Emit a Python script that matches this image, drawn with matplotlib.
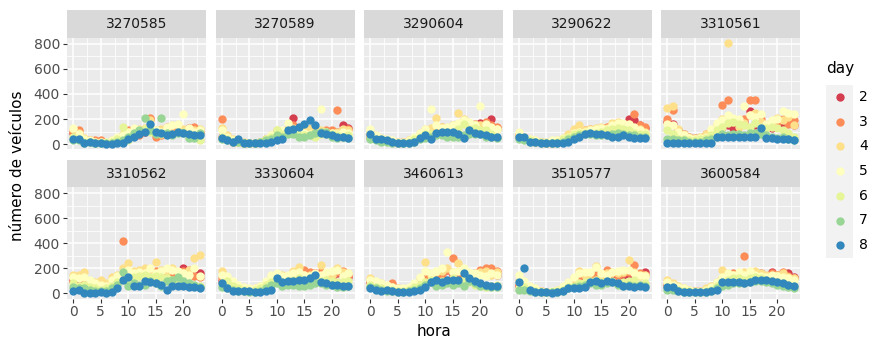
import matplotlib
matplotlib.use("Agg")
import matplotlib.pyplot as plt
import numpy as np

# sensors (facets) and the day legend
sensors = ["3270585", "3270589", "3290604", "3290622", "3310561",
           "3310562", "3330604", "3460613", "3510577", "3600584"]
days = [2, 3, 4, 5, 6, 7, 8]
hours = list(range(24))
day_colors = ["#D53E4F", "#FC8D59", "#FEE08B", "#FFFFBF", "#E6F598", "#99D594", "#3288BD"]

# vehicles per hour, one row per day (2..8)
s3270585 = [
    [90, 80, 40, 30, 20, 20, 10, 20, 40, 60, 90, 100, 80, 100, 200, 80, 90, 110, 130, 120, 100, 130, 120, 100],
    [100, 110, 40, 30, 30, 30, 10, 20, 40, 60, 110, 110, 70, 110, 210, 60, 70, 140, 130, 120, 110, 130, 140, 110],
    [120, 90, 50, 30, 20, 20, 20, 30, 50, 80, 100, 110, 120, 130, 190, 110, 120, 130, 150, 150, 120, 120, 110, 120],
    [130, 80, 40, 30, 20, 20, 20, 30, 60, 70, 100, 130, 110, 120, 130, 110, 100, 140, 150, 160, 240, 130, 100, 110],
    [60, 40, 20, 20, 10, 10, 10, 20, 40, 140, 30, 70, 90, 120, 100, 90, 80, 90, 80, 100, 100, 80, 70, 30],
    [30, 30, 10, 15, 10, 10, 5, 10, 20, 30, 60, 90, 110, 210, 110, 80, 210, 90, 70, 90, 90, 50, 50, 90],
    [40, 40, 5, 20, 5, 5, 0, 0, 10, 10, 40, 60, 80, 100, 160, 100, 90, 70, 80, 100, 90, 80, 70, 75],
]
s3270589 = [
    [60, 40, 20, 20, 10, 10, 10, 20, 40, 60, 90, 100, 110, 210, 120, 110, 100, 110, 100, 90, 90, 100, 150, 130],
    [200, 60, 30, 20, 10, 10, 10, 20, 40, 60, 100, 100, 120, 150, 120, 110, 120, 100, 100, 110, 110, 270, 110, 120],
    [130, 70, 40, 20, 15, 10, 10, 20, 40, 70, 110, 100, 110, 130, 120, 110, 120, 100, 110, 100, 90, 100, 120, 110],
    [110, 60, 30, 20, 10, 10, 10, 20, 40, 70, 90, 110, 170, 110, 90, 90, 80, 80, 280, 100, 90, 80, 100, 90],
    [60, 40, 20, 20, 10, 10, 10, 20, 40, 60, 110, 80, 90, 90, 70, 70, 70, 60, 80, 80, 80, 70, 60, 70],
    [40, 30, 15, 15, 10, 5, 5, 15, 30, 40, 70, 60, 80, 80, 60, 60, 70, 90, 100, 100, 60, 50, 60, 50],
    [50, 30, 20, 40, 10, 5, 5, 10, 10, 20, 30, 40, 110, 120, 140, 160, 190, 150, 90, 80, 70, 60, 60, 50],
]
s3290604 = [
    [60, 50, 30, 30, 20, 10, 20, 20, 40, 70, 100, 100, 110, 130, 120, 140, 150, 170, 170, 160, 170, 170, 200, 130],
    [70, 50, 40, 30, 20, 20, 20, 30, 50, 70, 100, 110, 130, 140, 130, 150, 160, 170, 160, 150, 150, 180, 150, 140],
    [100, 60, 50, 30, 20, 20, 20, 30, 50, 90, 120, 130, 210, 140, 130, 150, 250, 200, 170, 160, 150, 140, 130, 120],
    [120, 70, 50, 40, 30, 20, 20, 30, 60, 90, 120, 280, 150, 130, 140, 150, 170, 190, 180, 150, 300, 160, 140, 120],
    [60, 40, 30, 20, 20, 10, 10, 20, 40, 60, 80, 80, 90, 90, 100, 90, 120, 160, 120, 130, 110, 110, 80, 60],
    [40, 30, 20, 20, 10, 10, 5, 10, 20, 40, 50, 60, 70, 70, 60, 60, 60, 70, 80, 80, 80, 60, 60, 50],
    [80, 40, 40, 30, 20, 10, 10, 10, 20, 50, 70, 40, 90, 100, 100, 100, 80, 50, 110, 90, 80, 70, 60, 60],
]
s3290622 = [
    [60, 40, 30, 20, 20, 10, 10, 20, 40, 60, 90, 100, 100, 110, 110, 110, 120, 120, 130, 150, 200, 190, 150, 130],
    [70, 50, 30, 20, 20, 10, 10, 20, 40, 70, 90, 100, 110, 120, 120, 130, 140, 130, 140, 150, 160, 240, 150, 140],
    [80, 60, 40, 30, 20, 20, 20, 30, 50, 80, 120, 150, 110, 120, 130, 140, 130, 170, 180, 150, 140, 130, 120, 100],
    [100, 60, 40, 30, 20, 20, 30, 30, 50, 60, 90, 100, 100, 110, 120, 130, 120, 150, 170, 170, 160, 140, 110, 90],
    [60, 40, 30, 20, 20, 10, 10, 20, 40, 60, 80, 90, 90, 90, 90, 100, 110, 120, 130, 120, 110, 90, 80, 80],
    [40, 30, 20, 20, 10, 10, 5, 10, 20, 40, 60, 70, 80, 80, 70, 70, 70, 80, 90, 80, 70, 70, 60, 60],
    [60, 60, 20, 20, 10, 10, 5, 5, 10, 20, 40, 60, 80, 90, 80, 80, 70, 60, 60, 70, 60, 50, 50, 50],
]
s3310561 = [
    [180, 160, 110, 80, 60, 50, 50, 70, 90, 110, 140, 150, 130, 160, 180, 265, 150, 170, 140, 130, 150, 160, 180, 150],
    [200, 270, 70, 60, 40, 40, 50, 80, 100, 120, 310, 350, 180, 160, 200, 350, 355, 200, 150, 180, 170, 200, 160, 190],
    [290, 300, 120, 80, 60, 50, 60, 80, 110, 160, 200, 810, 200, 140, 170, 230, 250, 180, 130, 160, 210, 190, 220, 150],
    [160, 150, 100, 70, 50, 40, 50, 60, 120, 170, 190, 230, 210, 200, 300, 230, 220, 240, 160, 190, 200, 260, 250, 240],
    [110, 80, 40, 40, 30, 30, 40, 50, 70, 110, 140, 170, 180, 160, 150, 140, 170, 140, 130, 140, 130, 110, 90, 60],
    [40, 40, 30, 30, 20, 20, 20, 30, 40, 60, 80, 70, 80, 80, 70, 90, 90, 80, 70, 60, 50, 60, 40, 30],
    [10, 10, 8, 8, 8, 8, 8, 8, 8, 60, 60, 60, 60, 60, 60, 60, 60, 130, 50, 50, 40, 40, 40, 30],
]
s3310562 = [
    [100, 110, 90, 60, 50, 40, 50, 60, 100, 140, 150, 140, 160, 150, 170, 150, 140, 170, 180, 170, 200, 180, 150, 160],
    [110, 120, 100, 80, 60, 50, 60, 90, 120, 420, 160, 130, 150, 140, 160, 180, 170, 160, 150, 170, 180, 190, 140, 130],
    [150, 150, 170, 100, 90, 110, 80, 130, 150, 200, 240, 180, 190, 200, 180, 250, 190, 180, 200, 170, 160, 190, 280, 310],
    [130, 120, 130, 110, 80, 70, 60, 110, 140, 170, 190, 160, 170, 160, 200, 160, 180, 200, 190, 180, 160, 150, 200, 140],
    [80, 60, 70, 50, 40, 30, 40, 60, 90, 110, 90, 130, 140, 150, 130, 140, 130, 120, 110, 100, 90, 80, 70, 60],
    [50, 40, 40, 30, 20, 20, 20, 40, 70, 170, 60, 80, 70, 70, 100, 80, 60, 100, 110, 130, 100, 80, 70, 50],
    [20, 30, 0, 0, 0, 10, 0, 10, 40, 110, 130, 60, 60, 100, 90, 80, 70, 30, 60, 60, 60, 50, 50, 40],
]
s3330604 = [
    [100, 80, 50, 40, 30, 30, 30, 40, 60, 90, 110, 120, 130, 140, 150, 150, 140, 160, 150, 140, 130, 160, 150, 130],
    [120, 90, 60, 50, 40, 30, 30, 50, 70, 110, 130, 120, 140, 150, 160, 190, 170, 160, 170, 150, 140, 170, 180, 140],
    [180, 120, 80, 60, 40, 30, 40, 60, 90, 120, 140, 150, 140, 180, 210, 150, 150, 150, 230, 160, 150, 200, 170, 160],
    [150, 140, 100, 70, 50, 40, 40, 60, 100, 150, 160, 140, 150, 160, 170, 150, 140, 160, 150, 170, 180, 190, 140, 160],
    [80, 100, 60, 40, 30, 20, 30, 40, 70, 90, 100, 90, 100, 110, 120, 110, 120, 120, 100, 110, 100, 90, 90, 100],
    [50, 40, 30, 20, 20, 15, 15, 20, 40, 70, 80, 60, 70, 70, 60, 60, 70, 80, 80, 70, 70, 50, 50, 60],
    [80, 40, 20, 20, 20, 20, 10, 10, 20, 30, 120, 90, 100, 100, 110, 110, 120, 150, 90, 80, 70, 70, 60, 60],
]
s3460613 = [
    [90, 70, 50, 50, 40, 20, 20, 30, 50, 90, 110, 130, 150, 170, 190, 150, 170, 140, 130, 150, 170, 180, 170, 150],
    [100, 80, 60, 60, 80, 40, 30, 40, 60, 100, 130, 140, 160, 140, 190, 280, 160, 150, 140, 160, 190, 200, 200, 180],
    [120, 90, 80, 60, 50, 40, 30, 40, 70, 120, 250, 150, 170, 180, 200, 170, 240, 180, 160, 150, 170, 180, 150, 170],
    [110, 100, 80, 70, 50, 40, 40, 50, 80, 130, 180, 160, 180, 200, 330, 170, 180, 200, 170, 160, 150, 140, 160, 150],
    [70, 50, 40, 30, 30, 20, 20, 30, 50, 70, 90, 110, 100, 100, 90, 120, 100, 110, 90, 70, 60, 50, 60, 70],
    [50, 40, 30, 20, 20, 15, 15, 20, 30, 40, 70, 90, 60, 70, 80, 70, 80, 60, 100, 80, 60, 60, 50, 50],
    [40, 30, 20, 30, 20, 10, 10, 10, 20, 30, 50, 90, 110, 90, 110, 110, 110, 160, 120, 100, 80, 70, 60, 60],
]
s3510577 = [
    [60, 50, 40, 30, 20, 10, 10, 20, 40, 60, 100, 130, 60, 130, 140, 120, 130, 140, 130, 150, 150, 160, 150, 170],
    [70, 60, 40, 30, 20, 10, 10, 20, 50, 70, 110, 140, 150, 140, 150, 140, 190, 160, 150, 160, 170, 225, 160, 150],
    [100, 70, 50, 30, 20, 15, 15, 30, 50, 80, 120, 180, 150, 160, 220, 150, 160, 170, 160, 170, 265, 170, 140, 150],
    [150, 100, 60, 40, 20, 15, 20, 30, 60, 90, 130, 160, 170, 170, 210, 160, 150, 170, 180, 190, 190, 160, 150, 140],
    [40, 50, 30, 20, 10, 10, 10, 20, 30, 50, 60, 80, 90, 100, 110, 90, 100, 100, 80, 90, 100, 110, 70, 80],
    [30, 30, 20, 15, 10, 10, 10, 15, 20, 40, 50, 60, 70, 80, 70, 70, 80, 90, 70, 60, 70, 60, 70, 60],
    [90, 200, 30, 10, 10, 10, 5, 10, 20, 40, 40, 40, 50, 90, 100, 80, 100, 90, 80, 60, 60, 50, 60, 50],
]
s3600584 = [
    [60, 50, 40, 30, 20, 20, 20, 30, 50, 70, 110, 130, 140, 130, 120, 140, 150, 160, 140, 170, 150, 140, 160, 130],
    [70, 60, 40, 30, 20, 20, 20, 30, 50, 80, 120, 140, 160, 150, 300, 150, 140, 150, 140, 160, 150, 170, 140, 120],
    [110, 80, 60, 40, 30, 20, 20, 40, 60, 90, 190, 140, 150, 160, 170, 150, 180, 160, 150, 140, 150, 160, 130, 120],
    [90, 70, 50, 40, 30, 20, 20, 30, 50, 90, 130, 160, 150, 170, 150, 180, 150, 140, 130, 150, 140, 130, 120, 110],
    [50, 40, 30, 20, 20, 10, 10, 20, 30, 60, 90, 110, 120, 120, 110, 120, 130, 120, 110, 100, 90, 80, 70, 60],
    [30, 30, 20, 15, 10, 10, 10, 15, 20, 40, 60, 70, 80, 80, 80, 90, 100, 100, 90, 80, 70, 60, 50, 40],
    [50, 50, 20, 10, 10, 10, 10, 15, 20, 30, 95, 90, 90, 90, 80, 90, 110, 110, 110, 100, 90, 80, 70, 60],
]
panel_data = [s3270585, s3270589, s3290604, s3290622, s3310561,
              s3310562, s3330604, s3460613, s3510577, s3600584]

W, H = 872, 345
fig = plt.figure(figsize=(W / 100, H / 100), dpi=100)
fig.patch.set_facecolor("white")

def fx(px):
    return px / W

def fy(py):
    return 1 - py / H

# panel geometry in pixels
pan_left = 67
pan_w = 139
pan_step = 148.5
rows_top = [37.6, 187.0]
pan_h = 111.5
strip_h = 27.5

for i, name in enumerate(sensors):
    r, c = divmod(i, 5)
    left = pan_left + c * pan_step
    top = rows_top[r]
    ax = fig.add_axes([fx(left), fy(top + pan_h), fx(pan_w), pan_h / H])
    ax.set_facecolor("#EBEBEB")
    for sp in ax.spines.values():
        sp.set_visible(False)
    ax.set_xlim(-1.15, 24.15)
    ax.set_ylim(-40.5, 850.5)
    ax.set_xticks([0, 5, 10, 15, 20])
    ax.set_xticks([2.5, 7.5, 12.5, 17.5, 22.5], minor=True)
    ax.set_yticks([0, 200, 400, 600, 800])
    ax.set_yticks([100, 300, 500, 700], minor=True)
    ax.grid(which="major", color="white", lw=1.1)
    ax.grid(which="minor", color="white", lw=0.55)
    ax.set_axisbelow(True)
    ax.tick_params(which="minor", length=0)
    ax.tick_params(which="major", length=3, width=0.8, color="#333333",
                   labelsize=10, labelcolor="#4D4D4D", pad=2)
    if r == 0:
        ax.tick_params(axis="x", labelbottom=False, length=0)
    if c > 0:
        ax.tick_params(axis="y", labelleft=False, length=0)

    for k, d in enumerate(days):
        ax.scatter(hours, panel_data[i][k], s=36, color=day_colors[k],
                   linewidths=0, zorder=3 + k)

    # facet strip
    st = fig.add_axes([fx(left), fy(top), fx(pan_w), strip_h / H])
    st.set_facecolor("#D9D9D9")
    st.set_xticks([])
    st.set_yticks([])
    for sp in st.spines.values():
        sp.set_visible(False)
    st.text(0.5, 0.48, name, ha="center", va="center", fontsize=10,
            color="#1A1A1A", transform=st.transAxes)

# axis titles
fig.text(fx(pan_left + (4 * pan_step + pan_w) / 2), fy(331), "hora",
         ha="center", va="center", fontsize=11, color="black")
fig.text(fx(17), fy(166), "número de veículos", ha="center", va="center",
         rotation=90, fontsize=11, color="black")

# legend
fig.text(fx(826), fy(68), "day", ha="left", va="center", fontsize=11)
key_step = 24.7
for k, d in enumerate(days):
    cy = 97 + k * key_step
    box = fig.add_axes([fx(826), fy(cy + key_step / 2), fx(27), key_step / H])
    box.set_facecolor("#F2F2F2")
    box.set_xticks([])
    box.set_yticks([])
    for sp in box.spines.values():
        sp.set_visible(False)
    box.set_xlim(0, 1)
    box.set_ylim(0, 1)
    box.scatter([0.5], [0.5], s=36, color=day_colors[k], linewidths=0)
    fig.text(fx(859), fy(cy), str(d), ha="left", va="center", fontsize=10,
             color="black")

fig.savefig("out.png", dpi=100)
